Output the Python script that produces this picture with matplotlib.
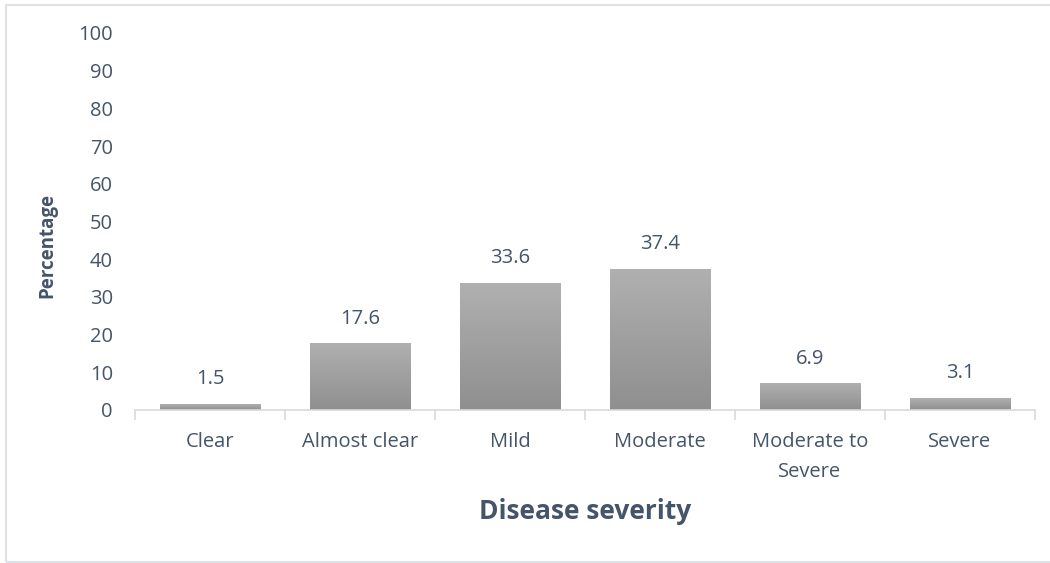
import numpy as np
import matplotlib.pyplot as plt
from matplotlib.colors import LinearSegmentedColormap
from matplotlib.patches import Rectangle

categories = ['Clear', 'Almost clear', 'Mild', 'Moderate', 'Moderate to\nSevere', 'Severe']
percent = [1.5, 17.6, 33.6, 37.4, 6.9, 3.1]
yticks = list(range(0, 101, 10))

text_col = '#44546A'
line_col = '#D9D9D9'
plt.rcParams['font.family'] = ['Open Sans', 'DejaVu Sans']

fig = plt.figure(figsize=(10.5, 5.63), dpi=100)
ax = fig.add_axes([0.1286, 0.2718, 0.8571, 0.6696])

# light frame round the chart area (runs off the right edge)
fig.patches.append(Rectangle((6 / 1050, 1 / 563), 1.0, 557 / 563, transform=fig.transFigure,
                             fill=False, edgecolor='#DEE2E8', linewidth=1.5))

grey = LinearSegmentedColormap.from_list('grey', ['#8F8F8F', '#B0B0B0'])
grad = np.linspace(0, 1, 256).reshape(-1, 1)
width = 0.667
x = np.arange(len(categories))
for xi, v in zip(x, percent):
    ax.imshow(grad, cmap=grey, aspect='auto', origin='lower',
              extent=(xi - width / 2, xi + width / 2, 0, v), zorder=2)
    ax.annotate(f'{v}', (xi, v), xytext=(0, 18), textcoords='offset points',
                ha='center', va='center', fontsize=14.5, color=text_col)

ax.set_xlim(-0.5, len(categories) - 0.5)
ax.set_ylim(0, 100)
ax.set_yticks(yticks)
ax.set_xticks(x)
ax.set_xticklabels(categories, fontsize=14.5, color=text_col, linespacing=1.65)
ax.set_xticks(np.arange(-0.5, len(categories)), minor=True)
ax.tick_params(axis='x', which='major', length=0, pad=16)
ax.tick_params(axis='x', which='minor', length=7, color=line_col, width=1.2)
ax.tick_params(axis='y', length=0, labelsize=14.5, labelcolor=text_col, pad=16)

for s in ['top', 'right', 'left']:
    ax.spines[s].set_visible(False)
ax.spines['bottom'].set_color(line_col)
ax.spines['bottom'].set_linewidth(1.2)

ax.set_ylabel('Percentage', fontsize=13.5, fontweight='bold', color=text_col)
ax.yaxis.set_label_coords(47 / 1050 / 0.8571 - 0.1286 / 0.8571, 0.436)
ax.set_xlabel('Disease severity', fontsize=19, fontweight='bold', color=text_col)
ax.xaxis.set_label_coords(0.5, -(512 - 410) / (0.6696 * 563))
ax.xaxis.label.set_va('center')
ax.yaxis.label.set_va('center')

fig.savefig('out.png', dpi=100)
